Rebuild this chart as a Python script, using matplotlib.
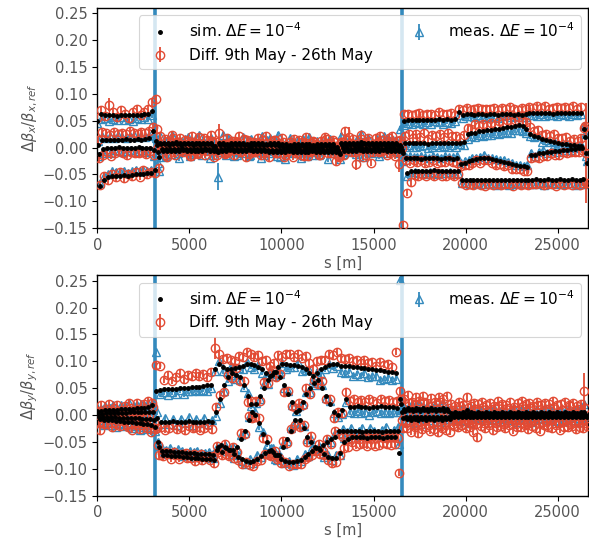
import numpy as np
import matplotlib
matplotlib.use("Agg")
import matplotlib.pyplot as plt

# ---------------- data (values in units of 1e-3) ----------------
s_period = [0,213,427,640,853,1067,1280,1493,1706,1920,2133,2346,2560,2773,2986,3200,3413,3626,3839,4053,4266,4479,4693,4906,5119,
            5333,5546,5759,5972,6186,6399,6612,6826,7039,7252,7466,7679,7892,8105,8319,8532,8745,8959,9172,9385,9599,9812,10025,10238,10452,
            10665,10878,11092,11305,11518,11732,11945,12158,12371,12585,12798,13011,13225,13438,13651,13865,14078,14291,14504,14718,14931,15144,15358,15571,15784,
            15998,16211,16424,16637,16851,17064,17277,17491,17704,17917,18131,18344,18557,18770,18984,19197,19410,19624,19837,20050,20264,20477,20690,20903,21117,
            21330,21543,21757,21970,22183,22397,22610,22823,23036,23250,23463,23676,23890,24103,24316,24530,24743,24956,25169,25383,25596,25809,26023,26236,26449]
bpm_offsets = [0, 53, 107, 160]
ip_positions = [3150, 16520]

# ---- horizontal plane: simulation ----
sim_x_b1 = [50,62,61,60,60,59,60,61,60,60,61,61,62,63,68,12,9,9,8,9,10,9,8,9,9,
            8,9,9,8,9,3,8,8,7,8,9,8,8,7,8,8,9,8,7,8,8,9,6,6,5,
            6,6,7,6,6,5,6,6,7,6,6,2,9,9,8,9,9,10,9,8,9,9,8,9,9,
            9,8,5,49,51,51,52,51,52,52,51,52,53,52,53,52,53,66,60,62,62,61,62,62,61,
            62,62,61,62,62,62,61,62,61,62,64,64,65,64,64,64,63,64,64,64,64,65,64,64,35]
sim_x_b2 = [5,15,15,15,14,15,15,16,15,15,16,15,16,17,30,5,6,6,5,6,6,5,6,6,5,
            6,5,6,6,5,-2,4,4,3,4,4,5,4,4,3,4,4,4,5,4,4,3,2,2,2,
            2,2,3,2,2,1,2,2,3,2,2,-4,5,5,5,4,5,5,6,5,5,4,5,5,5,
            5,5,2,8,8,8,9,8,8,7,8,8,9,8,8,8,9,8,10,25,27,28,30,31,32,
            33,34,35,36,38,39,41,42,40,35,25,22,19,16,14,12,10,8,7,6,5,4,3,3,20]
sim_x_b3 = [-12,-2,0,-1,0,1,0,-1,0,0,1,0,-1,0,-5,-8,-2,-2,-3,-2,-2,-1,-2,-2,-3,
            -2,-2,-1,-2,-2,-6,-2,-2,-1,-2,-3,-2,-2,-1,-2,-2,-3,-2,-4,-4,-5,-4,-4,-3,-4,
            -4,-5,-4,-4,-3,-4,-4,-5,-4,-4,-4,-8,-1,-1,-2,-1,-1,0,-1,-2,-1,-1,-2,-1,-1,
            -1,-2,-4,-20,-20,-19,-20,-21,-20,-20,-19,-20,-21,-20,-20,-21,-20,-30,-28,-25,-23,-21,-20,-19,-20,
            -22,-24,-25,-27,-29,-31,-33,-34,-35,-36,-14,-13,-11,-10,-9,-8,-7,-6,-5,-4,-3,-2,-1,0,-10]
sim_x_b4 = [-72,-60,-55,-53,-52,-52,-51,-52,-51,-50,-50,-49,-48,-48,-42,-18,-6,-6,-7,-6,-6,-5,-6,-6,-7,
            -6,-6,-5,-6,-6,-8,-6,-6,-5,-6,-7,-6,-6,-5,-6,-6,-7,-6,-8,-8,-9,-8,-8,-7,-8,
            -8,-9,-8,-8,-7,-8,-8,-9,-8,-8,-8,-12,-6,-6,-7,-6,-5,-6,-6,-7,-6,-6,-5,-6,-6,
            -6,-7,-10,-48,-44,-43,-43,-44,-43,-43,-42,-43,-44,-43,-43,-44,-43,-60,-60,-60,-60,-60,-61,-60,-60,
            -60,-61,-60,-60,-61,-60,-60,-61,-60,-60,-60,-59,-60,-60,-59,-60,-60,-59,-60,-60,-59,-60,-60,-59,-28]

# ---- horizontal plane: measurement minus simulation ----
dm_x_b1 = [-5,-9,-6,-10,-7,-8,-4,-9,-7,-11,-6,-8,-5,-9,-8,5,12,-6,8,15,-9,4,-12,10,3,
           -7,14,2,-11,9,1,-4,16,-8,6,-13,3,11,-5,8,-10,2,13,-6,9,-3,15,-9,4,12,
           -5,8,-12,3,14,-7,6,1,-10,9,-4,2,13,-8,5,-11,7,16,-3,10,-9,4,-6,12,8,
           -2,6,30,-7,-5,-8,-4,-6,-9,-5,-7,-3,-6,-8,-5,-7,-4,-6,-5,-4,-3,-5,-2,-6,-4,
           -5,-3,-6,-4,-2,-5,-3,-6,-4,-5,-3,-4,-6,-2,-5,-4,-3,-6,-2,-4,-5,-3,-4,-2,5]
dm_x_b2 = [8,6,3,7,4,8,5,2,6,9,4,7,3,6,-8,-10,-11,7,-4,13,2,-9,10,-3,6,
           12,-6,4,-10,8,3,-12,5,14,-2,7,-9,1,10,-5,6,-13,3,9,-7,11,-4,2,-11,8,
           4,-8,13,-3,6,-10,2,9,-6,14,-1,5,-9,7,-12,3,10,-4,8,-7,1,12,-5,6,-10,
           9,-3,5,-7,-4,-6,-8,-5,-3,-7,-6,-4,-8,-5,-6,-3,-7,-2,-5,-9,-6,-8,-7,-10,-8,
           -9,-7,-10,-8,-9,-11,-8,-10,-9,-7,-4,-3,2,-5,1,-2,3,-4,0,2,-3,1,-1,2,6]
dm_x_b3 = [-4,-8,-6,-9,-5,-7,-8,-6,-4,-9,-7,-5,-8,-6,-10,-20,6,-13,3,10,-8,12,-5,-14,4,
           -9,7,-3,11,-12,2,9,-6,13,-4,-10,6,-1,-15,8,-7,4,-11,10,-3,5,-13,7,-2,11,
           -6,10,-4,-12,3,8,-9,1,12,-7,5,-3,-11,9,-5,2,-14,6,11,-8,4,-10,7,-2,13,
           -5,8,-6,2,4,1,3,5,2,0,4,3,1,5,2,3,4,2,3,1,4,2,3,5,1,
           2,3,1,4,2,3,0,2,1,3,4,-2,3,5,-1,2,4,-3,1,3,-2,2,4,1,-6]
dm_x_b4 = [6,8,5,9,7,6,8,4,7,9,6,8,5,7,-2,-25,-12,9,-5,3,-14,7,11,-6,2,
           10,-8,4,-13,6,-46,12,-7,3,-10,8,-4,13,-9,5,1,-12,7,-3,11,-6,4,-14,9,-2,
           6,-11,3,10,-7,12,-4,8,-13,2,5,-9,7,-3,11,-6,4,-12,9,-1,3,-10,8,-5,2,
           7,-3,-15,-4,-6,-3,-5,-4,-7,-3,-5,-6,-4,-5,-3,-6,-4,-5,-6,-8,-7,-5,-6,-8,-7,
           -6,-8,-5,-7,-9,-6,-7,-5,-8,-6,-7,-8,-6,-9,-5,-7,-6,-8,-7,-5,-6,-9,-7,-8,3]

# ---- horizontal plane: difference of measurements minus simulation ----
dd_x_b1 = [5,8,-2,20,6,-3,9,2,-5,7,10,-1,4,8,16,78,12,-8,5,14,-6,9,-11,3,13,
           -4,10,-9,6,15,-7,19,-3,11,-10,4,13,-6,8,-12,2,9,-5,14,-8,6,-2,12,-9,5,
           10,-7,3,13,-4,8,-11,6,12,-3,9,-6,2,22,11,7,-9,13,-2,10,-5,8,14,-7,4,
           12,-3,10,14,12,9,11,13,8,10,12,9,13,11,10,12,8,6,9,11,8,10,12,9,11,
           10,12,8,11,9,13,10,8,12,9,11,10,12,9,13,8,10,11,9,12,10,13,8,11,2]
dd_x_b2 = [10,14,12,9,15,11,13,10,16,12,9,14,11,13,8,30,-6,10,-3,12,5,-9,8,-12,6,
           3,-10,11,-4,7,13,-8,2,-11,9,5,-6,12,-2,8,-13,4,10,-7,1,11,-5,9,-10,3,
           -8,12,-3,6,-11,9,2,-7,13,-4,8,-12,5,10,-6,3,-9,11,-1,7,-13,4,9,-5,12,
           -2,8,5,14,18,10,16,12,20,9,15,13,17,11,19,14,12,10,14,12,8,15,10,13,9,
           12,8,14,10,13,9,11,15,10,12,14,9,13,8,12,10,15,9,11,13,8,12,10,14,20]
dd_x_b3 = [-8,-12,-9,-14,-10,-7,-11,-13,-8,-10,-12,-9,-11,-7,-8,10,4,-11,7,-6,12,-3,9,-13,2,
           -9,6,-12,3,11,-7,5,-10,8,-2,13,-6,4,-11,9,-4,12,-8,1,10,-5,7,-13,3,11,
           -7,4,-12,8,-3,10,-9,2,13,-6,5,-10,7,-4,11,-8,3,9,-12,6,-2,12,-5,8,-10,
           4,-6,3,-4,-8,-5,-7,-3,-9,-6,-4,-8,-5,-7,-3,-6,-8,-4,-5,-7,-6,-3,-8,-5,-4,
           -6,-8,-5,-7,-4,-9,-6,-5,-8,-7,-6,-4,-8,-5,-7,-3,-6,-8,-4,-7,-5,-6,-8,-4,0]
dd_x_b4 = [2,8,-5,4,-3,6,-6,3,-2,5,-4,7,-1,2,-6,-20,9,-12,5,-7,11,-3,8,-10,4,
           -6,12,-2,7,-11,3,10,-5,13,-8,2,9,-12,6,-3,11,-7,4,-10,8,-1,13,-6,3,-9,
           7,-4,11,-8,2,12,-6,9,-3,13,-17,5,-8,10,-2,-24,8,-11,4,-21,6,-3,10,-7,2,
           -9,-23,-135,-36,-20,-8,-10,-6,-9,-7,-11,-5,-8,-10,-6,-9,-7,-6,-9,-7,-10,-6,-8,-11,-7,
           -9,-6,-10,-8,-7,-11,-6,-9,-8,-10,-7,-9,-6,-10,-8,-7,-11,-6,-9,-8,-10,-7,-9,-6,-38]

# ---- vertical plane: simulation ----
sim_y_b1 = [8,8,9,9,10,10,11,11,12,12,13,13,14,15,18,45,47,48,48,49,49,50,50,51,52,
            52,53,54,55,56,85,95,90,85,85,88,90,92,95,95,94,90,85,78,72,80,90,95,95,94,
            93,92,90,85,78,72,78,85,90,93,95,95,92,92,91,90,89,88,87,86,85,84,83,82,81,
            80,78,30,12,13,12,13,12,13,12,13,12,12,13,12,4,5,4,5,10,5,4,5,4,5,
            4,5,4,5,4,5,4,5,4,5,4,5,4,5,4,5,4,5,4,5,4,5,4,5,6]
sim_y_b2 = [2,2,3,3,3,4,4,4,5,5,5,6,6,6,5,-5,-12,-12,-12,-11,-12,-12,-12,-11,-12,
            -12,-12,-12,-11,-12,5,30,55,70,78,75,70,55,35,20,0,-15,-35,-50,-65,-75,-75,-60,-45,-30,
            -10,10,25,40,50,60,65,50,35,20,5,0,10,30,15,15,16,15,15,14,15,15,16,15,15,
            15,14,20,8,9,8,9,8,9,8,9,8,9,8,8,2,3,2,3,2,3,2,3,2,3,
            2,3,2,3,2,3,2,3,2,3,2,3,2,3,2,3,2,3,2,3,2,3,2,3,2]
sim_y_b3 = [-3,-3,-4,-4,-4,-5,-5,-5,-6,-6,-6,-7,-7,-8,-10,-50,-66,-67,-67,-68,-69,-69,-70,-71,-71,
            -72,-72,-73,-73,-74,-65,-55,-60,-65,-65,-60,-45,-30,-10,5,20,35,50,65,75,80,70,55,40,25,
            5,-10,-25,-40,-50,-60,-62,-55,-50,-45,-40,-30,-30,-30,-30,-29,-30,-31,-30,-30,-29,-30,-31,-30,-30,
            -30,-29,5,-3,-4,-3,-4,-3,-4,-3,-4,-3,-3,-4,-3,-2,-1,-2,-1,-2,-1,-2,-1,-2,-1,
            -2,-1,-2,-1,-2,-1,-2,-1,-2,-1,-2,-1,-2,-1,-2,-1,-2,-1,-2,-1,-2,-1,-2,-1,-2]
sim_y_b4 = [-8,-9,-9,-10,-11,-11,-12,-13,-13,-14,-15,-16,-17,-18,-22,-60,-74,-75,-76,-76,-77,-78,-78,-79,-80,
            -80,-81,-82,-82,-84,-60,-68,-62,-65,-72,-78,-82,-86,-87,-86,-82,-76,-70,-66,-68,-75,-82,-86,-87,-87,
            -86,-83,-78,-72,-66,-62,-65,-72,-78,-80,-80,-70,-50,-45,-41,-41,-40,-41,-42,-41,-40,-41,-42,-41,-40,
            -41,-70,-5,-8,-9,-8,-9,-8,-9,-8,-9,-8,-9,-8,-8,-4,-3,-4,-3,-4,-3,-4,-3,-4,-3,
            -4,-3,-4,-3,-4,-3,-4,-3,-4,-3,-4,-3,-4,-3,-4,-3,-4,-3,-4,-3,-4,-3,-4,-3,-4]

# ---- vertical plane: measurement minus simulation ----
dm_y_b1 = [6,3,8,4,9,2,7,5,10,3,6,8,4,7,5,73,-8,-5,-10,-7,-9,-4,-11,-6,-8,
           -5,-9,-7,-10,-6,-3,5,-8,-4,6,-10,-2,-7,3,-5,-9,4,-6,-3,8,-7,-4,2,-9,-5,
           -3,6,-8,-2,5,-6,3,-9,-4,2,-7,-3,-12,-14,-10,-17,-12,-15,-9,-16,-13,-11,-18,-14,-12,
           -15,-10,221,3,-6,8,-4,10,-2,5,-9,7,-3,9,-7,2,6,-5,10,-3,8,-6,4,-8,7,
           -4,9,-2,6,-7,3,10,-5,8,-3,5,-8,7,-1,9,-6,4,-9,6,-2,8,-5,3,10,15]
dm_y_b2 = [-5,8,-3,10,-7,4,9,-6,3,11,-4,7,-8,5,-3,10,-4,6,-5,3,-7,5,-2,7,-6,
           4,-3,6,-5,2,-6,-8,-10,-6,-4,-8,-5,-3,6,-4,5,-7,3,-5,4,-6,2,7,-3,5,
           -4,6,-5,3,-7,-4,-6,5,-3,6,-2,-4,-8,-6,-10,-12,-8,-11,-9,-13,-10,-7,-12,-9,-11,
           -10,-8,-10,-6,8,-5,9,-7,4,-9,6,-3,10,-6,3,-8,7,-4,9,-2,5,-7,8,-5,3,
           7,-6,4,-9,2,8,-5,6,-3,10,-7,3,-8,5,-2,9,-6,4,-9,7,-4,6,-3,8,-5]
dm_y_b3 = [-7,4,-10,6,-5,-9,3,-8,5,-11,-4,6,-9,-3,-6,0,4,2,6,1,5,3,-1,4,2,
           6,1,3,5,2,6,-5,4,-8,5,-4,7,-3,6,-6,3,-5,8,-7,4,-3,7,-4,5,-6,
           3,-7,4,-5,6,-4,5,-8,3,-6,7,-3,4,-2,6,-5,1,7,-3,5,0,-6,3,8,-4,
           2,6,5,-7,3,-9,5,-4,8,-6,2,-8,6,-3,9,-5,3,-7,4,-10,6,-2,7,-4,5,
           -6,3,-9,5,-4,7,-2,8,-6,4,-8,2,-5,9,-3,6,-7,4,-9,5,-1,7,-4,2,-8]
dm_y_b4 = [-6,-10,-3,-8,-12,-5,-9,-4,-11,-7,-13,-6,-9,-5,-8,3,5,2,6,3,7,1,4,6,2,
           5,3,7,2,4,-4,6,-5,3,-7,4,-3,-6,5,-4,7,-2,3,-5,6,-8,4,-3,2,-6,
           5,-3,6,-4,7,-5,2,-6,4,-3,6,-4,8,2,4,6,1,3,5,2,4,6,3,1,5,
           2,17,6,-4,8,-6,3,-9,5,-2,7,-8,4,-5,9,-3,6,-7,2,-10,5,-4,8,-6,3,
           -5,7,-3,9,-6,4,-8,2,-4,6,-9,5,-2,8,-6,3,-7,5,-3,9,-5,2,-8,6,-4]

# ---- vertical plane: difference of measurements minus simulation ----
dd_y_b1 = [-4,10,-7,12,-2,8,-9,6,11,-5,9,-3,7,12,4,48,45,18,26,15,22,28,17,24,20,
           27,19,23,16,25,40,18,14,22,17,12,20,16,23,18,14,21,15,24,19,16,22,13,18,20,
           15,21,17,24,19,14,22,17,13,20,16,23,14,12,16,10,14,9,15,11,13,8,16,12,14,
           10,40,15,18,25,12,20,15,22,10,19,13,21,16,24,17,12,20,14,23,11,18,15,21,13,
           19,12,22,16,14,20,11,17,23,15,18,12,21,14,19,16,22,13,17,20,14,18,12,16,38]
dd_y_b2 = [6,-8,9,-4,11,-7,5,-10,8,-3,7,-9,4,-6,10,-20,-10,-15,-12,-8,-14,-11,-16,-9,-13,
           -10,-15,-12,-8,-14,10,8,-12,5,-9,12,-6,9,-11,7,-4,10,-8,6,-12,9,-5,11,-7,4,
           -9,12,-6,10,-11,5,-8,13,-5,9,-10,6,-7,12,11,14,9,13,10,15,12,8,14,11,13,
           9,12,10,-6,14,-9,12,-4,16,-10,8,-7,15,-11,6,8,-9,14,-5,11,-12,9,-3,13,-8,
           10,-7,15,-4,12,-9,7,-12,14,-5,11,-8,16,-3,9,-10,13,-6,8,-11,15,-4,10,-7,12]
dd_y_b3 = [-10,6,-12,4,-8,10,-6,-14,5,-9,8,-11,3,-7,-5,-5,-4,-2,-6,-1,-5,-3,0,-4,-2,
           -6,-1,-5,-3,-2,8,-10,7,-12,5,-9,11,-6,8,-11,6,-8,12,-5,9,-10,7,-13,4,-8,
           9,-12,6,-10,11,-7,8,-12,5,-9,10,-6,-11,-8,-12,-9,-14,-7,-10,-13,-8,-11,-6,-12,-9,
           -10,-13,-15,-12,-8,-16,-10,-13,-7,-15,-11,-9,-17,-12,-8,-14,-10,-16,-7,-13,-11,-15,-9,-12,-14,
           -8,-13,-10,-16,-11,-7,-14,-9,-12,-15,-10,-8,-13,-11,-16,-7,-12,-14,-9,-11,-15,-10,-13,-8,-12]
dd_y_b4 = [-20,-8,5,-12,-6,-10,3,-9,-14,-5,-11,2,-7,-13,-4,-15,-3,2,-5,1,-4,3,-2,0,-6,
           2,-3,4,-1,-5,-8,-6,-10,-3,-7,-5,-9,-2,-6,-8,-4,-7,-3,-9,-5,-6,-8,-2,-7,-4,
           -5,-8,-3,-6,-9,-4,-7,-2,-6,-10,-8,-5,-12,-14,-10,-16,-13,-11,-15,-12,-17,-14,-10,-13,-15,
           -12,-37,-20,-16,-22,-14,-25,-18,-13,-21,-17,-24,-15,-19,-23,-16,-20,-14,-22,-18,-28,-37,-17,-21,-15,
           -24,-19,-16,-22,-14,-26,-18,-20,-15,-23,-17,-21,-25,-16,-19,-22,-14,-24,-18,-20,-16,-23,-19,-21,-17]

# error bars (units 1e-3): typical value and a few large ones keyed by (period, branch)
err_meas_typ = 5
err_diff_typ = 7
err_meas_x_big = {(30, 3): 25}
err_diff_x_big = {(3, 0): 12, (31, 0): 16, (64, 0): 20, (65, 3): 12, (76, 3): 15, (124, 2): 93}
err_meas_y_big = {}
err_diff_y_big = {(30, 0): 20, (124, 0): 34}

labels = [r'sim. $\Delta E = 10^{-4}$', 'Diff. 9th May - 26th May', r'meas. $\Delta E = 10^{-4}$']
ylabels = [r'$\Delta\beta_x/\beta_{x,ref}$', r'$\Delta\beta_y/\beta_{y,ref}$']

RED = '#E24A33'
BLUE = '#348ABD'
TXT = '#555555'


def branches(*b):
    return np.array(b, dtype=float).T * 1e-3


def err_array(typ, big, shape):
    e = np.full(shape, float(typ))
    for (j, k), v in big.items():
        e[j, k] = v
    return e * 1e-3


s_grid = np.array(s_period, dtype=float)[:, None] + np.array(bpm_offsets, dtype=float)[None, :]

panels = [
    dict(sim=branches(sim_x_b1, sim_x_b2, sim_x_b3, sim_x_b4),
         dm=branches(dm_x_b1, dm_x_b2, dm_x_b3, dm_x_b4),
         dd=branches(dd_x_b1, dd_x_b2, dd_x_b3, dd_x_b4),
         em=err_meas_x_big, ed=err_diff_x_big),
    dict(sim=branches(sim_y_b1, sim_y_b2, sim_y_b3, sim_y_b4),
         dm=branches(dm_y_b1, dm_y_b2, dm_y_b3, dm_y_b4),
         dd=branches(dd_y_b1, dd_y_b2, dd_y_b3, dd_y_b4),
         em=err_meas_y_big, ed=err_diff_y_big),
]

fig = plt.figure(figsize=(5.89, 5.42), dpi=100)
axes_rect = [[0.1652, 0.5790, 0.8336, 0.4065], [0.1652, 0.0855, 0.8336, 0.4065]]

for p, rect, ylab in zip(panels, axes_rect, ylabels):
    ax = fig.add_axes(rect)
    s = s_grid.ravel()
    sim = p['sim']
    meas = (sim + p['dm'])
    diff = (sim + p['dd'])
    em = err_array(err_meas_typ, p['em'], sim.shape)
    ed = err_array(err_diff_typ, p['ed'], sim.shape)

    for xv in ip_positions:
        ax.axvline(xv, color=BLUE, lw=2.6, zorder=1)

    h_meas = ax.errorbar(s, meas.ravel(), yerr=em.ravel(), fmt='^', color=BLUE,
                         mfc='none', mec=BLUE, ms=6, mew=1.0, elinewidth=1.3,
                         capsize=0, zorder=2)
    h_diff = ax.errorbar(s, diff.ravel(), yerr=ed.ravel(), fmt='o', color=RED,
                         mfc='none', mec=RED, ms=6, mew=1.0, elinewidth=1.3,
                         capsize=0, zorder=3)
    h_sim, = ax.plot(s, sim.ravel(), '.', color='black', ms=5, zorder=4)

    ax.set_xlim(0, 26659)
    ax.set_ylim(-0.15, 0.26)
    ax.set_yticks(np.arange(-0.15, 0.2501, 0.05))
    ax.set_xticks([0, 5000, 10000, 15000, 20000, 25000])
    ax.set_xlabel('s [m]', color=TXT, fontsize=10.5, labelpad=2)
    ax.set_ylabel(ylab, color=TXT, fontsize=10.5, labelpad=2)
    ax.tick_params(axis='both', colors='black', labelcolor=TXT, labelsize=10.5,
                   direction='out', length=3.5, width=0.8, top=False, right=False)
    for sp in ax.spines.values():
        sp.set_color('black')
        sp.set_linewidth(1.0)

    leg = ax.legend([h_sim, h_diff, h_meas], labels, ncol=2, loc='upper right',
                    fontsize=11, frameon=True, fancybox=True, framealpha=0.8,
                    edgecolor='#cccccc', columnspacing=2.0, handletextpad=0.9,
                    borderaxespad=0.5)
    leg.get_frame().set_linewidth(0.8)

fig.savefig('out.png', dpi=100)
